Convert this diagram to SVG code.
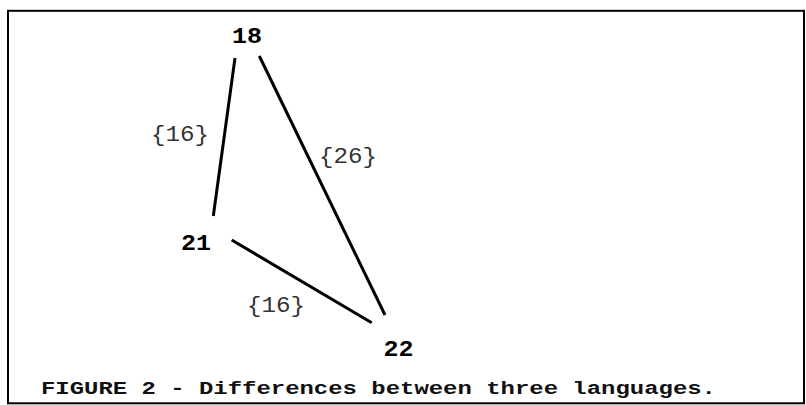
<svg xmlns="http://www.w3.org/2000/svg" width="806" height="405" viewBox="0 0 806 405">
<style>
.node{font-family:"Liberation Mono","Courier New",monospace;font-weight:bold;font-size:22px;fill:#000;text-anchor:middle}
.elabel{font-family:"Liberation Mono","Courier New",monospace;font-size:22px;fill:#333}
.edge{stroke:#000;stroke-width:3;fill:none;stroke-linecap:butt}
.cap{font-family:"Liberation Mono","Courier New",monospace;font-weight:bold;font-size:18.5px;fill:#111}
</style>
<rect x="0" y="0" width="806" height="405" fill="#fff"/>
<rect x="8" y="10.8" width="796" height="392.5" fill="#fff" stroke="#000" stroke-width="2"/>
<g id="connectors">
<line class="edge" x1="235" y1="58" x2="213.3" y2="216"/>
<line class="edge" x1="259.3" y1="56" x2="385" y2="315"/>
<line class="edge" x1="231.7" y1="240" x2="371.7" y2="322.7"/>
<text class="elabel" x="151" y="140.5" textLength="58" lengthAdjust="spacingAndGlyphs">{16}</text>
<text class="elabel" x="319" y="163" textLength="58" lengthAdjust="spacingAndGlyphs">{26}</text>
<text class="elabel" x="247" y="312" textLength="58" lengthAdjust="spacingAndGlyphs">{16}</text>
</g>
<g id="node-18"><text class="node" x="247" y="42.7" textLength="30" lengthAdjust="spacingAndGlyphs">18</text></g>
<g id="node-21"><text class="node" x="196" y="250" textLength="30" lengthAdjust="spacingAndGlyphs">21</text></g>
<g id="node-22"><text class="node" x="398.5" y="356" textLength="30" lengthAdjust="spacingAndGlyphs">22</text></g>
<g id="caption"><text class="cap" x="41" y="393.5" textLength="675" lengthAdjust="spacingAndGlyphs">FIGURE 2 - Differences between three languages.</text></g>
</svg>
